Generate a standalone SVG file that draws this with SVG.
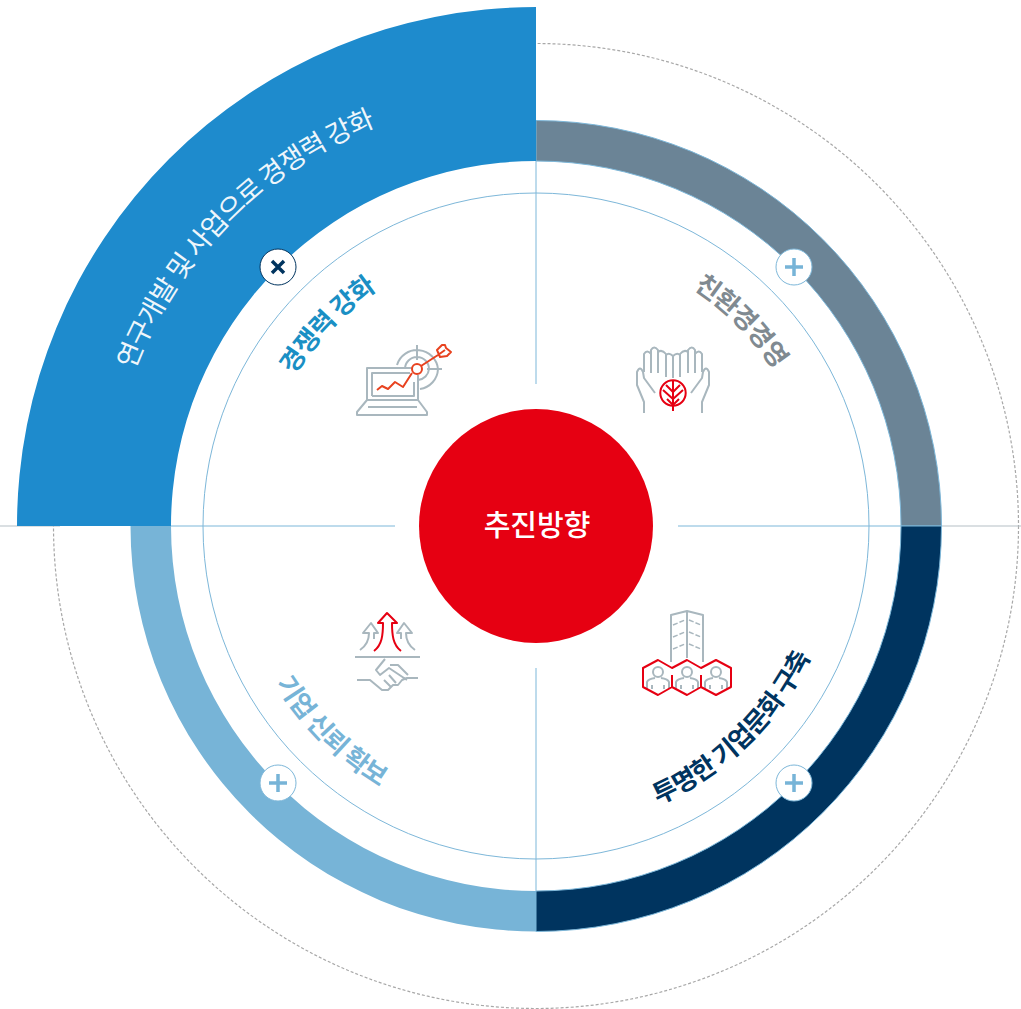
<svg xmlns="http://www.w3.org/2000/svg" xmlns:xlink="http://www.w3.org/1999/xlink" width="1021" height="1009" viewBox="0 0 1021 1009">
<style>
text{font-family:"Noto Sans CJK KR","Noto Sans",sans-serif;text-anchor:middle}
.lbl{font-size:26px;font-weight:700;letter-spacing:-1px}
.blueline{fill:none;stroke:#7db7d9;stroke-width:1}
.g{fill:none;stroke:#a9b7be;stroke-width:2;stroke-linejoin:round}
.r{fill:none;stroke:#e60012;stroke-width:2;stroke-linejoin:round}
.o{fill:none;stroke:#e8421f;stroke-width:2;stroke-linejoin:round}
.btn{fill:#fff;stroke:#7db7d9;stroke-width:1}
.pl{fill:none;stroke:#77b4d7;stroke-width:3.5}
</style>
<defs>
<path id="topOut" d="M105 526A431 431 0 0 1 967 526"/>
<path id="top" d="M251 526A285 285 0 0 1 821 526"/>
<path id="bot" d="M232 526A304 304 0 0 0 840 526"/>
<g id="hand"><path class="g" d="M644 413V402L637 385V372Q640 365 643 372L644 378L655 393M644 372V354Q647 349 651 354V373M651 354V350Q654 345 658 350V373M658 352Q662 349 666 354V377M666 355Q669 352 673 356V378"/></g>
<g id="arrowG"><path class="g" d="M360 650C366 646 369 640 369 633H363L371 623L378 633H374V639"/></g>
<g id="person"><circle class="g" cx="658" cy="672" r="5"/><path class="g" d="M647 689V682Q648 679 655 678M669 689V682Q668 679 661 678M652 685V689M664 685V689"/></g>
</defs>
<rect width="1021" height="1009" fill="#fff"/>
<g id="connectors">
<circle cx="536" cy="526" r="482.500" fill="none" stroke="#a8a8a8" stroke-width="1.200" stroke-dasharray="3 2"/>
<path d="M0 526H60M941 526H1021" fill="none" stroke="#b5bfc5" stroke-width="1"/>
<path d="M131 526H395M678 526H941M536 120V384M536 668V931" class="blueline"/>
<circle cx="536" cy="526" r="333" class="blueline"/>
</g>
<g id="seg-tr"><path d="M536 120.500A405.500 405.500 0 0 1 941.500 526H901A365 365 0 0 0 536 161Z" fill="#6b8496" stroke="#7db7d9" stroke-width="1"/></g>
<g id="seg-br"><path d="M941.500 526A405.500 405.500 0 0 1 536 931.500V891A365 365 0 0 0 901 526Z" fill="#00345f" stroke="#7db7d9" stroke-width="1"/></g>
<g id="seg-bl"><path d="M536 931.500A405.500 405.500 0 0 1 130.500 526H171A365 365 0 0 0 536 891Z" fill="#77b4d7"/></g>
<g id="seg-tl">
<path d="M17 526A519 519 0 0 1 536 7V161A365 365 0 0 0 171 526Z" fill="#1e8bcd"/>
<text fill="#eef6fb" style="font-size:27px;font-weight:400;letter-spacing:-1.1px"><textPath href="#topOut" startOffset="24.8%">연구개발 및 사업으로 경쟁력 강화</textPath></text>
</g>
<g id="center"><circle cx="536" cy="526" r="117" fill="#e60012"/><text x="537" y="536" font-size="29" font-weight="500" fill="#fff">추진방향</text></g>
<g id="node-tl">
<text class="lbl" fill="#1a8fc4"><textPath href="#top" startOffset="24.4%">경쟁력 강화</textPath></text>
<circle cx="278" cy="267" r="18" fill="#fff" stroke="#00345f" stroke-width="1"/>
<path d="M272 261L284 273M284 261L272 273" fill="none" stroke="#00345f" stroke-width="3.500"/>
<path class="g" d="M412 368H367V400H418V375M372 396V373H410M372 396H414V382M367 400L357 412V415H427V412L418 400M368 407H417"/>
<path class="g" d="M397 365A21 21 0 0 1 438 369A21 21 0 0 1 420 389M417 345V360M405 369A12 12 0 0 1 429 369A12 12 0 0 1 418 380M427 369H442"/>
<path class="o" d="M377 390L382 386L388 389L395 382L403 387L412 373"/>
<circle class="o" cx="417" cy="369" r="5"/>
<path class="o" d="M421 366L438 355L445 350M437 350L442 345L445 345L446 348L451 352L447 356L440 357Z"/>
</g>
<g id="node-tr">
<text class="lbl" fill="#808a91"><textPath href="#top" startOffset="75%">친환경경영</textPath></text>
<circle class="btn" cx="794" cy="267" r="18"/>
<path class="pl" d="M785 267H803M794 258V276"/>
<use href="#hand"/><use href="#hand" transform="translate(1346 0) scale(-1 1)"/>
<circle class="r" cx="673" cy="393" r="12.700"/>
<path class="r" d="M673 380V411M673 392L666 385M673 392L680 385M673 399L663 390M673 399L683 390M673 405L667 399M673 405L679 399"/>
</g>
<g id="node-br">
<text class="lbl" fill="#00345f"><textPath href="#bot" startOffset="74.5%">투명한 기업문화 구축</textPath></text>
<circle class="btn" cx="794" cy="783" r="18"/>
<path class="pl" d="M785 783H803M794 774V792"/>
<path class="g" d="M671 662V615L687 611L703 615V662M687 611V658"/>
<path class="g" stroke-dasharray="5 2" style="stroke-width:1.500" d="M673 625L685 620M673 637L685 632M673 649L685 644M689 620L701 625M689 632L701 637M689 644L701 649"/>
<use href="#person"/><use href="#person" x="29"/><use href="#person" x="58"/>
<path class="r" d="M672 675V687L658 695L643 687V668L658 660L672 668L687 660L701 668L716 660L731 668V687L716 695L701 687L687 695L672 687M701 675V687"/>
</g>
<g id="node-bl">
<text class="lbl" fill="#77b4d7"><textPath href="#bot" startOffset="25%">기업 신뢰 확보</textPath></text>
<circle class="btn" cx="278" cy="783" r="18"/>
<path class="pl" d="M269 783H287M278 774V792"/>
<path class="g" d="M355 657H420"/>
<use href="#arrowG"/><use href="#arrowG" transform="translate(775 0) scale(-1 1)"/>
<path class="r" d="M374 651C382 645 383 635 383 623H378L387 613L397 623H392C392 635 393 645 401 651"/>
<path class="g" d="M357 680H370L382 690H388L393 685H398L402 680L407 678H418M385 659L376 670L380 675L389 668L407 680M390 665H398L408 675M389 675L396 683M384 680L391 687"/>
</g>
</svg>
